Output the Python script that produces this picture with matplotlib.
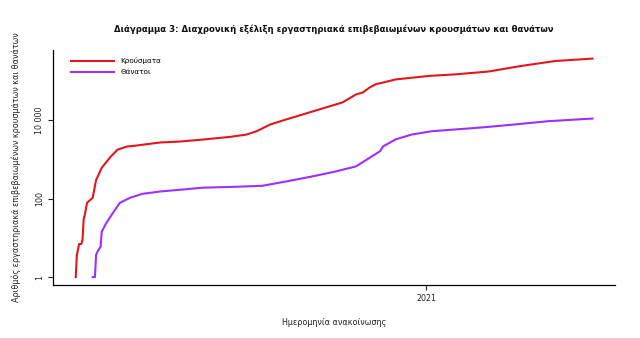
import matplotlib
matplotlib.use("Agg")
import matplotlib.pyplot as plt
import numpy as np

plt.rcParams["font.family"] = ["Liberation Sans Narrow", "DejaVu Sans"]

# cumulative counts (log scale), by announcement date
case_dates = ["2020-02-26", "2020-02-27", "2020-02-29", "2020-03-02", "2020-03-03",
              "2020-03-04", "2020-03-05", "2020-03-07", "2020-03-12", "2020-03-15",
              "2020-03-20", "2020-03-28", "2020-04-03", "2020-04-11", "2020-04-20",
              "2020-05-11", "2020-05-28", "2020-06-17", "2020-07-11",
              "2020-07-26", "2020-08-04", "2020-08-16", "2020-08-30", "2020-09-28",
              "2020-10-19", "2020-10-31", "2020-11-06", "2020-11-12", "2020-11-18",
              "2020-11-21", "2020-12-05", "2021-01-04", "2021-01-27", "2021-02-25",
              "2021-03-26", "2021-04-25", "2021-05-28"]
cases = [1, 3.7, 7, 7, 9, 30, 39, 79, 106, 300, 620, 1200, 1800, 2150, 2300,
         2750, 2900, 3250, 3800, 4370, 5330, 7900, 10600, 19000, 29000,
         46500, 52000, 70000, 86000, 89000, 112000, 138000, 151000, 178000,
         247000, 331000, 381000]

death_dates = ["2020-03-12", "2020-03-14", "2020-03-15", "2020-03-17", "2020-03-19",
               "2020-03-20", "2020-03-24", "2020-03-30", "2020-04-05", "2020-04-14",
               "2020-04-25", "2020-05-11", "2020-05-28", "2020-06-17", "2020-07-17",
               "2020-08-09", "2020-08-30", "2020-09-22", "2020-10-13", "2020-10-31",
               "2020-11-12", "2020-11-21", "2020-11-24", "2020-12-05", "2020-12-19",
               "2021-01-06", "2021-01-18", "2021-02-19", "2021-03-20", "2021-04-19",
               "2021-05-28"]
deaths = [1, 1, 3.7, 4.9, 6, 14.5, 24, 44, 79, 106, 134, 154, 170, 192, 203,
          215, 277, 372, 500, 674, 1120, 1630, 2190, 3300, 4370, 5330, 5650,
          6640, 7900, 9600, 11200]

yticks = [1, 100, 10000]
ytick_labels = ["1", "100", "10 000"]

fig = plt.figure(figsize=(6.4, 3.38), dpi=100)
ax = fig.add_axes([0.083, 0.157, 0.878, 0.695])

ax.plot(np.array(case_dates, dtype="datetime64[D]"), cases,
        color="#E3161B", lw=1.5, label="Κρούσματα")
ax.plot(np.array(death_dates, dtype="datetime64[D]"), deaths,
        color="#9B30FF", lw=1.5, label="Θάνατοι")

ax.set_yscale("log")
ax.set_ylim(10 ** -0.2, 10 ** 5.8)
ax.set_xlim(np.datetime64("2020-02-06"), np.datetime64("2021-06-17"))

ax.set_yticks(yticks)
ax.set_yticklabels(ytick_labels, rotation=90, va="center")
ax.yaxis.set_minor_locator(matplotlib.ticker.NullLocator())
ax.set_xticks([np.datetime64("2021-01-01")])
ax.set_xticklabels(["2021"])
ax.xaxis.set_minor_locator(matplotlib.ticker.NullLocator())
ax.tick_params(labelsize=5.7, length=3.5, width=0.8, colors="#222222", pad=3)

for s in ["top", "right"]:
    ax.spines[s].set_visible(False)
for s in ["left", "bottom"]:
    ax.spines[s].set_linewidth(0.9)

ax.set_xlabel("Ημερομηνία ανακοίνωσης", fontsize=5.8, labelpad=11, color="#222222")
ax.set_ylabel("Αριθμός εργαστηριακά επιβεβαιωμένων κρουσμάτων και θανάτων",
              fontsize=5.8, labelpad=10, color="#222222")

fig.text(0.522, 0.912,
         "Διάγραμμα 3: Διαχρονική εξέλιξη εργαστηριακά επιβεβαιωμένων κρουσμάτων και θανάτων",
         ha="center", va="center", fontsize=6.1, fontweight="bold", color="#111111")

ax.legend(loc="upper left", bbox_to_anchor=(0.02, 0.997), frameon=False,
          fontsize=5.2, handlelength=6, handletextpad=0.9, labelspacing=0.7)

fig.savefig("out.png", dpi=100)
